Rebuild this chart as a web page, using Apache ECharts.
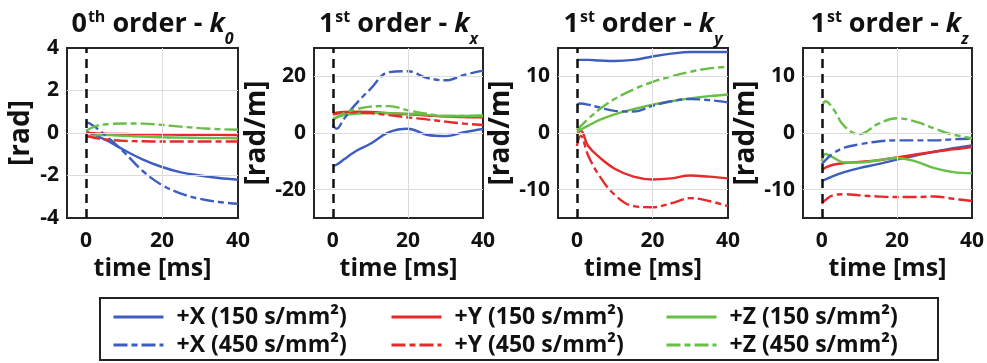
<!DOCTYPE html>
<html>
<head>
<meta charset="utf-8">
<script src="https://cdn.jsdelivr.net/npm/echarts@6/dist/echarts.min.js"></script>
<style>
  html, body { margin: 0; padding: 0; background: #fff; }
  #chart { width: 987px; height: 363px; }
</style>
</head>
<body>
<div id="chart"></div>
<script>
'use strict';

// time samples [ms]
var T = [0, 1, 3, 6, 10, 15, 20, 25, 30, 35, 40];

// 0th order - k0 [rad]
var k0_X150 = [0.05, 0.0, -0.15, -0.4, -0.8, -1.25, -1.6, -1.85, -2.0, -2.12, -2.2];
var k0_Y150 = [0.0, 0.0, -0.02, -0.04, -0.05, -0.06, -0.07, -0.08, -0.08, -0.09, -0.1];
var k0_Z150 = [-0.2, -0.15, -0.1, -0.1, -0.13, -0.17, -0.2, -0.22, -0.23, -0.24, -0.25];
var k0_X450 = [0.5, 0.45, 0.2, -0.25, -0.9, -1.8, -2.45, -2.85, -3.1, -3.25, -3.33];
var k0_Y450 = [-0.15, -0.18, -0.25, -0.32, -0.37, -0.39, -0.4, -0.4, -0.4, -0.4, -0.4];
var k0_Z450 = [0.1, 0.2, 0.35, 0.42, 0.45, 0.44, 0.38, 0.3, 0.23, 0.18, 0.15];

// 1st order - kx [rad/m]
var kx_X150 = [-11.5, -11.2, -9.3, -6.5, -3.8, 0.3, 1.5, -0.6, -1.1, 0.3, 1.4];
var kx_Y150 = [7.0, 7.2, 7.4, 7.5, 7.4, 7.0, 6.6, 6.2, 5.8, 5.6, 5.5];
var kx_Z150 = [5.0, 5.5, 6.3, 6.8, 7.0, 7.0, 6.8, 6.4, 6.0, 6.0, 6.0];
var kx_X450 = [3.0, 1.5, 5.0, 10.0, 15.5, 21.5, 21.8, 19.5, 18.6, 20.5, 22.0];
var kx_Y450 = [6.5, 6.8, 7.2, 7.3, 7.0, 6.3, 5.5, 4.8, 4.0, 3.3, 2.8];
var kx_Z450 = [4.5, 5.5, 7.0, 8.3, 9.3, 9.5, 8.0, 6.8, 6.0, 6.0, 6.2];

// 1st order - ky [rad/m]
var ky_X150 = [12.9, 12.9, 12.9, 12.8, 12.7, 12.9, 13.5, 14.0, 14.3, 14.3, 14.3];
var ky_Y150 = [-0.3, 0.4, -2.3, -4.3, -6.3, -7.7, -8.2, -8.0, -7.5, -7.7, -8.0];
var ky_Z150 = [0.2, 0.6, 1.3, 2.3, 3.3, 4.2, 5.0, 5.6, 6.1, 6.5, 6.8];
var ky_X450 = [5.0, 5.2, 5.0, 4.5, 3.9, 3.8, 4.8, 5.6, 6.0, 5.8, 5.4];
var ky_Y450 = [-2.3, -0.5, -4.0, -7.6, -10.9, -12.9, -13.1, -12.4, -11.5, -12.0, -12.9];
var ky_Z450 = [0.5, 1.2, 2.5, 4.2, 6.0, 7.7, 9.0, 10.0, 10.8, 11.4, 11.7];

// 1st order - kz [rad/m]
var kz_X150 = [-8.5, -8.2, -7.6, -6.9, -6.2, -5.5, -4.7, -4.0, -3.3, -2.7, -2.2];
var kz_Y150 = [-6.5, -6.1, -5.6, -5.3, -5.1, -4.8, -4.3, -3.8, -3.3, -2.9, -2.5];
var kz_Z150 = [-5.0, -3.7, -4.3, -5.2, -5.2, -4.8, -4.4, -5.0, -6.2, -6.9, -7.1];
var kz_X450 = [-5.5, -4.8, -3.6, -2.6, -2.0, -1.5, -1.3, -1.3, -1.3, -1.1, -1.0];
var kz_Y450 = [-12.5, -11.8, -11.0, -10.8, -11.0, -11.2, -11.3, -11.3, -11.2, -11.6, -12.0];
var kz_Z450 = [4.6, 5.6, 4.3, 1.2, -0.2, 1.6, 2.6, 2.0, 0.8, -0.3, -0.9];

var names = ['+X (150 s/mm²)', '+Y (150 s/mm²)', '+Z (150 s/mm²)',
             '+X (450 s/mm²)', '+Y (450 s/mm²)', '+Z (450 s/mm²)'];
var colors = ['#3d5ebf', '#e62a2a', '#67bf45'];

var yLabels = [[-4, -2, 0, 2, 4], [-20, 0, 20], [-10, 0, 10], [-10, 0, 10]];
var xLabels = [0, 20, 40];

var panels = [
  { title: '{n|0}{sup|th}{n| order - }{k|k}{sub|0}', unit: '[rad]', min: -4, max: 4, step: 2,
    lines: [k0_X150, k0_Y150, k0_Z150, k0_X450, k0_Y450, k0_Z450] },
  { title: '{n|1}{sup|st}{n| order - }{k|k}{sub|x}', unit: '[rad/m]', min: -30, max: 30, step: 10,
    lines: [kx_X150, kx_Y150, kx_Z150, kx_X450, kx_Y450, kx_Z450] },
  { title: '{n|1}{sup|st}{n| order - }{k|k}{sub|y}', unit: '[rad/m]', min: -15, max: 15, step: 5,
    lines: [ky_X150, ky_Y150, ky_Z150, ky_X450, ky_Y450, ky_Z450] },
  { title: '{n|1}{sup|st}{n| order - }{k|k}{sub|z}', unit: '[rad/m]', min: -15, max: 15, step: 5,
    lines: [kz_X150, kz_Y150, kz_Z150, kz_X450, kz_Y450, kz_Z450] }
];

var gridBoxes = [
  { left: 67, width: 171 },
  { left: 314, width: 169 },
  { left: 558, width: 170 },
  { left: 803, width: 173 }
];

var FONT = 'Open Sans';
var dashDot = [14, 4, 6, 4];

var grids = [], xAxes = [], yAxes = [], series = [], graphics = [];

panels.forEach(function (p, i) {
  var box = gridBoxes[i];
  grids.push({
    left: box.left, top: 48, width: box.width, height: 170,
    show: true, borderColor: '#262626', borderWidth: 2, containLabel: false
  });
  xAxes.push({
    gridIndex: i, type: 'value', min: -5, max: 40, interval: 5,
    axisLine: { show: false }, axisTick: { show: false }, splitLine: { show: false },
    axisLabel: {
      margin: 13, color: '#111', fontSize: 21, fontWeight: 'bold', fontFamily: FONT,
      formatter: function (v) { return xLabels.indexOf(v) >= 0 ? String(v) : ''; }
    },
    name: 'time [ms]', nameLocation: 'middle', nameGap: 38,
    nameTextStyle: { color: '#111', fontSize: 25, fontWeight: 'bold', fontFamily: FONT }
  });
  yAxes.push({
    gridIndex: i, type: 'value', min: p.min, max: p.max, interval: p.step,
    axisLine: { show: false }, axisTick: { show: false }, splitLine: { show: false },
    axisLabel: {
      margin: 8, color: '#111', fontSize: 21, fontWeight: 'bold', fontFamily: FONT,
      formatter: function (v) { return yLabels[i].indexOf(v) >= 0 ? String(v) : ''; }
    },
    name: p.unit, nameLocation: 'middle', nameGap: i === 0 ? 32 : 39, nameRotate: 90,
    nameTextStyle: { color: '#111', fontSize: 28, fontWeight: 'bold', fontFamily: FONT }
  });

  // grid lines and the dashed t = 0 marker
  var marks = [{ xAxis: 20 }];
  yLabels[i].forEach(function (v) {
    if (v > p.min && v < p.max) marks.push({ yAxis: v });
  });
  marks.push({ xAxis: 0, lineStyle: { color: '#111', width: 2.5, type: [9, 6] } });
  series.push({
    type: 'line', xAxisIndex: i, yAxisIndex: i, data: [], silent: true, z: 1,
    markLine: {
      silent: true, symbol: ['none', 'none'], label: { show: false },
      lineStyle: { color: '#dcdcdc', width: 1, type: 'solid' },
      data: marks
    }
  });

  p.lines.forEach(function (vals, j) {
    series.push({
      name: names[j], type: 'line', xAxisIndex: i, yAxisIndex: i, z: 3,
      data: T.map(function (t, k) { return [t, vals[k]]; }),
      smooth: 0.4, symbol: 'none',
      lineStyle: { color: colors[j % 3], width: 2.4, type: j < 3 ? 'solid' : dashDot },
      itemStyle: { color: colors[j % 3] }
    });
  });

  graphics.push({
    type: 'text', x: box.left + box.width / 2, y: 24,
    style: {
      text: p.title, align: 'center', verticalAlign: 'middle', fill: '#111',
      rich: {
        n: { fontSize: 27, fontWeight: 'bold', fontFamily: FONT, lineHeight: 34, verticalAlign: 'middle' },
        sup: { fontSize: 16, fontWeight: 'bold', fontFamily: FONT, lineHeight: 16, verticalAlign: 'top', padding: [2, 0, 0, 1] },
        k: { fontSize: 27, fontWeight: 'bold', fontStyle: 'italic', fontFamily: FONT, lineHeight: 34, verticalAlign: 'middle' },
        sub: { fontSize: 16, fontWeight: 'bold', fontStyle: 'italic', fontFamily: FONT, lineHeight: 16, verticalAlign: 'bottom', padding: [0, 0, -6, 0] }
      }
    }
  });
});

graphics.push({
  type: 'rect', shape: { x: 100, y: 298, width: 838, height: 62 },
  style: { fill: 'none', stroke: '#222', lineWidth: 2 }, silent: true
});

// one legend block per entry: [series name index, left, top]
var legendSlots = [[0, 112, 305], [3, 112, 333], [1, 390, 305], [4, 390, 333], [2, 665, 305], [5, 665, 333]];
var legends = legendSlots.map(function (s) {
  return {
    left: s[1], top: s[2], padding: 0, data: [names[s[0]]],
    itemWidth: 50, itemHeight: 4, selectedMode: false,
    itemStyle: { opacity: 0, borderWidth: 0 },
    lineStyle: { width: 3 },
    textStyle: { color: '#111', fontSize: 23, fontWeight: 'bold', fontFamily: FONT, lineHeight: 24, padding: [0, 0, 0, 8] }
  };
});

var chart = echarts.init(document.getElementById('chart'), null, { renderer: 'canvas' });
chart.setOption({
  animation: false,
  backgroundColor: '#fff',
  grid: grids,
  xAxis: xAxes,
  yAxis: yAxes,
  legend: legends,
  graphic: graphics,
  series: series
});
</script>
</body>
</html>
